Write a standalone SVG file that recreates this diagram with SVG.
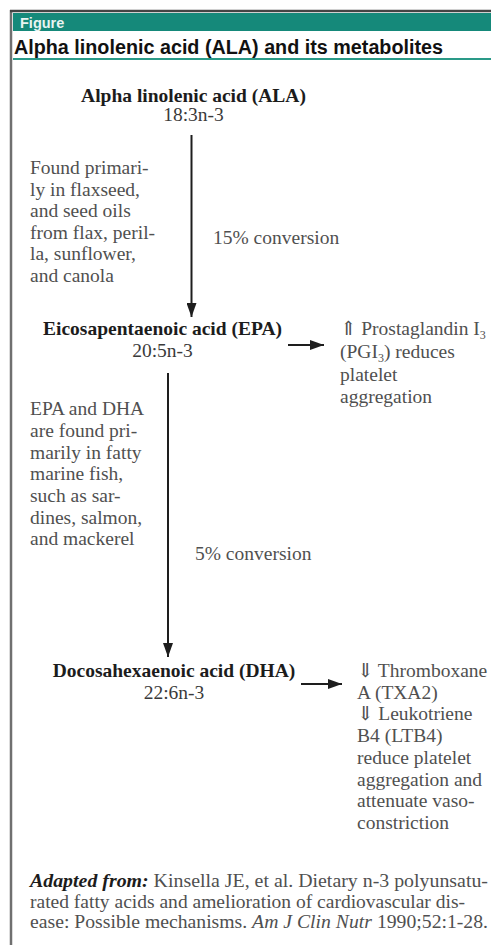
<svg xmlns="http://www.w3.org/2000/svg" width="491" height="945" viewBox="0 0 491 945">
<style>
.lbl{font-family:"Liberation Serif","DejaVu Serif",serif;font-weight:bold;font-size:19.5px;fill:#1c1c1c;text-anchor:middle}
.sub{font-family:"Liberation Serif","DejaVu Serif",serif;font-size:19.5px;fill:#3a3a3a;text-anchor:middle}
.body{font-family:"Liberation Serif","DejaVu Serif",serif;font-size:19.5px;fill:#505050}
.conn{stroke:#1e1e1e;stroke-width:2;fill:none}
</style>
<defs>
<marker id="ah" viewBox="0 0 14 10" refX="14" refY="5" markerWidth="14" markerHeight="10" markerUnits="userSpaceOnUse" orient="auto">
<path d="M0,0 L14,5 L0,10 Z" fill="#1e1e1e"/>
</marker>
</defs>
<rect width="491" height="945" fill="#fff"/>
<g id="frame">
<line x1="11" y1="10" x2="11" y2="945" stroke="#707070" stroke-width="2.5"/>
<line x1="10" y1="11" x2="491" y2="11" stroke="#444" stroke-width="2.5"/>
<rect x="13" y="13" width="478" height="18" fill="#15897a"/>
<text x="20" y="27.5" font-family="Liberation Sans, Arial, sans-serif" font-weight="bold" font-size="14.5" fill="#e8f4f1">Figure</text>
<text x="14" y="54" font-family="Liberation Sans, Arial, sans-serif" font-weight="bold" font-size="19.5" fill="#111" textLength="429" lengthAdjust="spacingAndGlyphs">Alpha linolenic acid (ALA) and its metabolites</text>
<line x1="13" y1="59" x2="491" y2="59" stroke="#2a9a88" stroke-width="2"/>
</g>
<g id="connectors">
<line class="conn" x1="191.5" y1="135" x2="191.5" y2="317" marker-end="url(#ah)"/>
<line class="conn" x1="168" y1="373" x2="168" y2="657" marker-end="url(#ah)"/>
<line class="conn" x1="288" y1="345" x2="324" y2="345" marker-end="url(#ah)"/>
<line class="conn" x1="301" y1="684" x2="342" y2="684" marker-end="url(#ah)"/>
</g>
<g id="ala">
<text class="lbl" x="193.5" y="102">Alpha linolenic acid (ALA)</text>
<text class="sub" x="193.5" y="121">18:3n-3</text>
</g>
<g id="ala-note">
<text class="body" x="30" y="174">Found primari-</text>
<text class="body" x="30" y="195.5">ly in flaxseed,</text>
<text class="body" x="30" y="217">and seed oils</text>
<text class="body" x="30" y="238.5">from flax, peril-</text>
<text class="body" x="30" y="260">la, sunflower,</text>
<text class="body" x="30" y="281.5">and canola</text>
</g>
<g id="conv1"><text class="body" x="213" y="244">15% conversion</text></g>
<g id="epa">
<text class="lbl" x="162.5" y="335">Eicosapentaenoic acid (EPA)</text>
<text class="sub" x="162.5" y="357">20:5n-3</text>
</g>
<g id="epa-effect">
<text class="body" x="340" y="335">⇑ Prostaglandin I<tspan font-size="12" dy="4">3</tspan></text>
<text class="body" x="340" y="358">(PGI<tspan font-size="12" dy="4">3</tspan><tspan dy="-4">) reduces</tspan></text>
<text class="body" x="340" y="381">platelet</text>
<text class="body" x="340" y="403">aggregation</text>
</g>
<g id="epa-note">
<text class="body" x="30" y="415">EPA and DHA</text>
<text class="body" x="30" y="437">are found pri-</text>
<text class="body" x="30" y="458.5">marily in fatty</text>
<text class="body" x="30" y="480">marine fish,</text>
<text class="body" x="30" y="502">such as sar-</text>
<text class="body" x="30" y="523.5">dines, salmon,</text>
<text class="body" x="30" y="545">and mackerel</text>
</g>
<g id="conv2"><text class="body" x="195" y="560">5% conversion</text></g>
<g id="dha">
<text class="lbl" x="174" y="677">Docosahexaenoic acid (DHA)</text>
<text class="sub" x="174" y="699">22:6n-3</text>
</g>
<g id="dha-effect">
<text class="body" x="357" y="677">⇓ Thromboxane</text>
<text class="body" x="357" y="698.5">A (TXA2)</text>
<text class="body" x="357" y="720">⇓ Leukotriene</text>
<text class="body" x="357" y="742">B4 (LTB4)</text>
<text class="body" x="357" y="763.5">reduce platelet</text>
<text class="body" x="357" y="785.5">aggregation and</text>
<text class="body" x="357" y="807">attenuate vaso-</text>
<text class="body" x="357" y="829">constriction</text>
</g>
<g id="footer">
<text class="body" x="30" y="887" textLength="458" lengthAdjust="spacingAndGlyphs"><tspan font-weight="bold" font-style="italic" fill="#1c1c1c">Adapted from:</tspan> Kinsella JE, et al. Dietary n-3 polyunsatu-</text>
<text class="body" x="30" y="907.5" textLength="435" lengthAdjust="spacingAndGlyphs">rated fatty acids and amelioration of cardiovascular dis-</text>
<text class="body" x="30" y="928" textLength="458" lengthAdjust="spacingAndGlyphs">ease: Possible mechanisms. <tspan font-style="italic">Am J Clin Nutr</tspan> 1990;52:1-28.</text>
</g>
</svg>
